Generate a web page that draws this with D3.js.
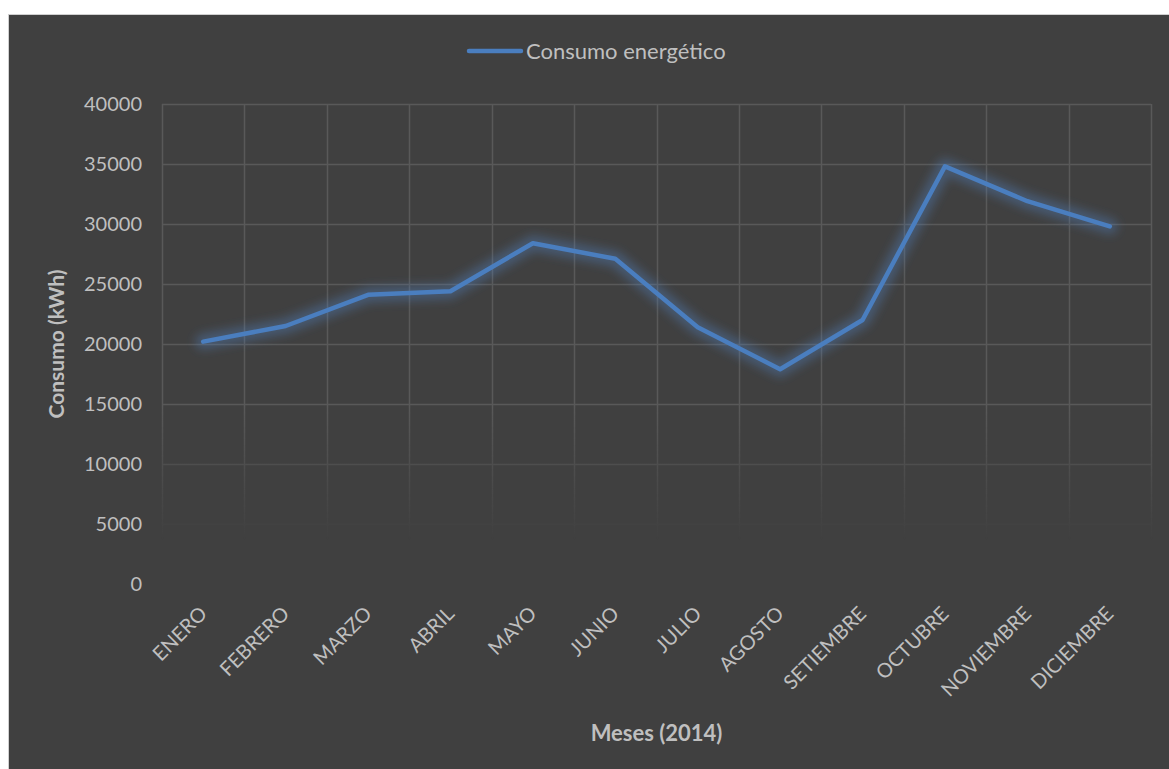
<!DOCTYPE html>
<html>
<head>
<meta charset="utf-8">
<script src="https://cdn.jsdelivr.net/npm/d3@7"></script>
<style>
  body { margin: 0; background: #ffffff; }
  text { font-family: Lato, "Open Sans", sans-serif; fill: #bfbfbf; }
</style>
</head>
<body>
<svg id="chart"></svg>
<script>
var width = 1169;
var height = 769;

// data
var months = ["ENERO", "FEBRERO", "MARZO", "ABRIL", "MAYO", "JUNIO", "JULIO",
              "AGOSTO", "SETIEMBRE", "OCTUBRE", "NOVIEMBRE", "DICIEMBRE"];
var consumo = [20200, 21500, 24100, 24400, 28400, 27100, 21400,
               17900, 22000, 34800, 31900, 29800];
var yTicks = [0, 5000, 10000, 15000, 20000, 25000, 30000, 35000, 40000];
var seriesName = "Consumo energético";
var xTitle = "Meses (2014)";
var yTitle = "Consumo (kWh)";

var margin = {left: 162, right: 18, top: 104, bottom: 185};

var svg = d3.select("#chart").attr("width", width).attr("height", height);

// chart area background
svg.append("rect")
    .attr("x", 8.5).attr("y", 14.5)
    .attr("width", width).attr("height", height)
    .attr("fill", "#404040")
    .attr("stroke", "#d0d0d0")
    .attr("stroke-width", 1);

var defs = svg.append("defs");
var grad = defs.append("linearGradient")
    .attr("id", "fade")
    .attr("gradientUnits", "userSpaceOnUse")
    .attr("x1", 0).attr("x2", 0)
    .attr("y1", 0).attr("y2", height);
grad.append("stop").attr("offset", 405 / height).attr("stop-color", "white");
grad.append("stop").attr("offset", 540 / height).attr("stop-color", "black");
defs.append("mask").attr("id", "gridMask")
    .attr("maskUnits", "userSpaceOnUse")
    .attr("x", 0).attr("y", 0).attr("width", width).attr("height", height)
    .append("rect")
    .attr("width", width).attr("height", height)
    .attr("fill", "url(#fade)");

var glow = defs.append("filter").attr("id", "glow")
    .attr("x", "-10%").attr("y", "-20%").attr("width", "120%").attr("height", "140%");
glow.append("feGaussianBlur").attr("stdDeviation", 5);

var scaleX = d3.scaleBand().domain(months)
    .range([margin.left, width - margin.right]);
var scaleY = d3.scaleLinear().domain([0, 40000])
    .range([height - margin.bottom, margin.top]);

// gridlines
var grid = svg.append("g").attr("mask", "url(#gridMask)");
grid.selectAll("line.h").data(yTicks).enter().append("line")
    .attr("class", "h")
    .attr("x1", margin.left).attr("x2", width - margin.right)
    .attr("y1", function(d) {return Math.round(scaleY(d)) + 0.5})
    .attr("y2", function(d) {return Math.round(scaleY(d)) + 0.5})
    .attr("stroke", "#595959").attr("stroke-width", 1.5);
var bounds = months.map(function(m) {return scaleX(m)}).concat([width - margin.right]);
grid.selectAll("line.v").data(bounds).enter().append("line")
    .attr("class", "v")
    .attr("x1", function(d) {return Math.round(d) + 0.5})
    .attr("x2", function(d) {return Math.round(d) + 0.5})
    .attr("y1", scaleY(40000)).attr("y2", scaleY(0))
    .attr("stroke", "#595959").attr("stroke-width", 1.5);

// y axis labels
var axisY = d3.axisLeft(scaleY).tickValues(yTicks).tickSize(0).tickPadding(20)
    .tickFormat(d3.format("d"));
var gy = svg.append("g")
    .attr("transform", "translate(" + margin.left + ",0)")
    .call(axisY);
gy.select(".domain").remove();
gy.selectAll("text").attr("font-size", 20).attr("fill", "#bfbfbf")
    .style("font-family", "Lato, 'Open Sans', sans-serif");

// x axis labels
var axisX = d3.axisBottom(scaleX).tickSize(0);
var gx = svg.append("g")
    .attr("transform", "translate(0," + scaleY(0) + ")")
    .call(axisX);
gx.select(".domain").remove();
gx.selectAll("text")
    .attr("font-size", 20).attr("fill", "#bfbfbf")
    .style("font-family", "Lato, 'Open Sans', sans-serif")
    .attr("text-anchor", "end")
    .attr("dy", 0).attr("y", 0)
    .attr("transform", "translate(5,31) rotate(-45)");

// line with glow
var line = d3.line()
    .x(function(d, i) {return scaleX(months[i]) + scaleX.bandwidth() / 2})
    .y(function(d) {return scaleY(d)});

svg.append("path")
    .datum(consumo)
    .attr("d", line)
    .attr("fill", "none")
    .attr("stroke", "#4f81bd")
    .attr("stroke-opacity", 0.38)
    .attr("stroke-width", 16)
    .attr("stroke-linejoin", "round")
    .attr("stroke-linecap", "round")
    .attr("filter", "url(#glow)");

svg.append("path")
    .datum(consumo)
    .attr("d", line)
    .attr("fill", "none")
    .attr("stroke", "#4a7ebf")
    .attr("stroke-width", 4.5)
    .attr("stroke-linejoin", "round")
    .attr("stroke-linecap", "round");

// legend
svg.append("line")
    .attr("x1", 469).attr("x2", 521)
    .attr("y1", 51).attr("y2", 51)
    .attr("stroke", "#4a7ebf").attr("stroke-width", 4.5)
    .attr("stroke-linecap", "round");
svg.append("text")
    .attr("x", 526).attr("y", 59)
    .attr("font-size", 22)
    .text(seriesName);

// axis titles
svg.append("text")
    .attr("x", (margin.left + width - margin.right) / 2)
    .attr("y", 741)
    .attr("text-anchor", "middle")
    .attr("font-size", 22)
    .attr("font-weight", "bold")
    .text(xTitle);

svg.append("text")
    .attr("transform", "translate(64," + (margin.top + scaleY(0)) / 2 + ") rotate(-90)")
    .attr("text-anchor", "middle")
    .attr("font-size", 21)
    .attr("font-weight", "bold")
    .text(yTitle);
</script>
</body>
</html>
